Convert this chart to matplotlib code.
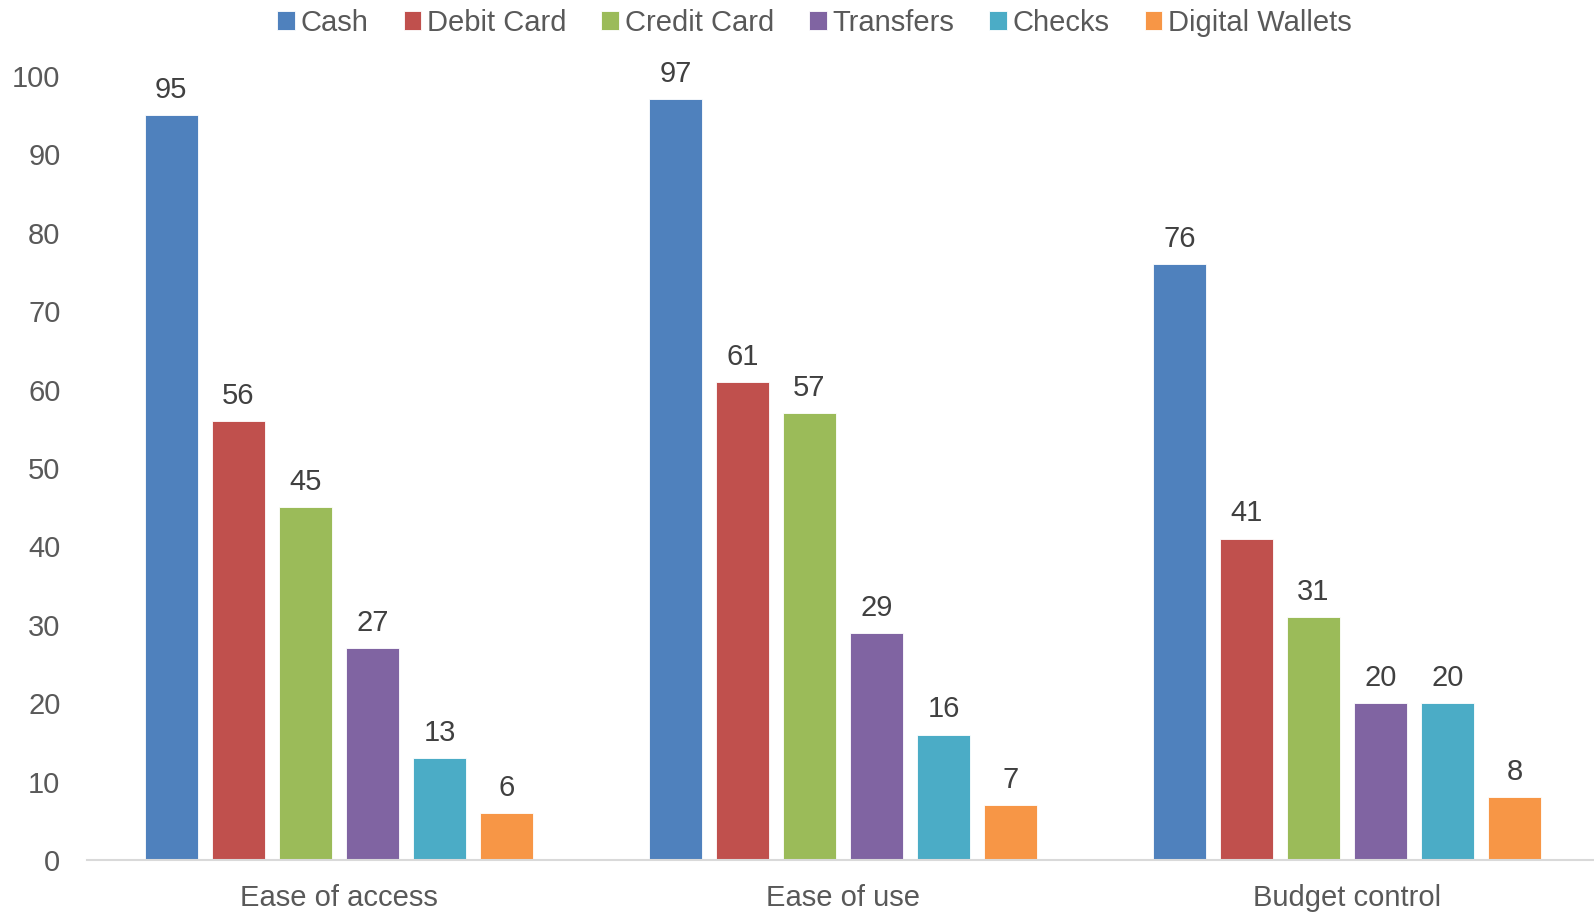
import matplotlib
matplotlib.use("Agg")
import matplotlib.pyplot as plt
import numpy as np

plt.rcParams['font.family'] = ['Liberation Sans', 'DejaVu Sans']

categories = ["Ease of access", "Ease of use", "Budget control"]
series_names = ["Cash", "Debit Card", "Credit Card", "Transfers", "Checks", "Digital Wallets"]
cash = [95, 97, 76]
debit_card = [56, 61, 41]
credit_card = [45, 57, 31]
transfers = [27, 29, 20]
checks = [13, 16, 20]
digital_wallets = [6, 7, 8]
series_values = [cash, debit_card, credit_card, transfers, checks, digital_wallets]
colors = ["#4F81BD", "#C0504D", "#9BBB59", "#8064A2", "#4BACC6", "#F79646"]
yticks = [0, 10, 20, 30, 40, 50, 60, 70, 80, 90, 100]

FS = 21

fig = plt.figure(figsize=(15.94, 9.13), dpi=100)
ax = fig.add_axes([0.0545, 0.058, 0.9455, 0.8588])

x = np.arange(len(categories))
step = 0.133
width = 0.105
n = len(series_names)
for i, (name, vals, c) in enumerate(zip(series_names, series_values, colors)):
    pos = x + (i - (n - 1) / 2) * step
    bars = ax.bar(pos, vals, width=width, color=c, label=name, edgecolor='white', linewidth=0.6, zorder=2)
    for b, v in zip(bars, vals):
        ax.annotate(str(v), (b.get_x() + b.get_width() / 2, v), xytext=(0, 8),
                    textcoords='offset points', ha='center', va='bottom',
                    fontsize=FS, color='#404040')

ax.set_xlim(-0.5, 2.49)
ax.set_ylim(0, 100)
ax.set_yticks(yticks)
ax.set_xticks(x)
ax.set_xticklabels(categories)
ax.tick_params(axis='both', length=0, labelsize=FS, colors='#595959')
ax.tick_params(axis='x', pad=17)
ax.tick_params(axis='y', pad=19)
for s in ['top', 'right', 'left']:
    ax.spines[s].set_visible(False)
ax.spines['bottom'].set_color('#D9D9D9')
ax.spines['bottom'].set_linewidth(1.5)

leg = fig.legend(loc='center', bbox_to_anchor=(0.511, 0.975), ncol=6, frameon=False,
                 fontsize=FS, handlelength=0.6, handleheight=0.6, handletextpad=0.2,
                 columnspacing=1.2)
for t in leg.get_texts():
    t.set_color('#595959')

fig.savefig("out.png", dpi=100)
